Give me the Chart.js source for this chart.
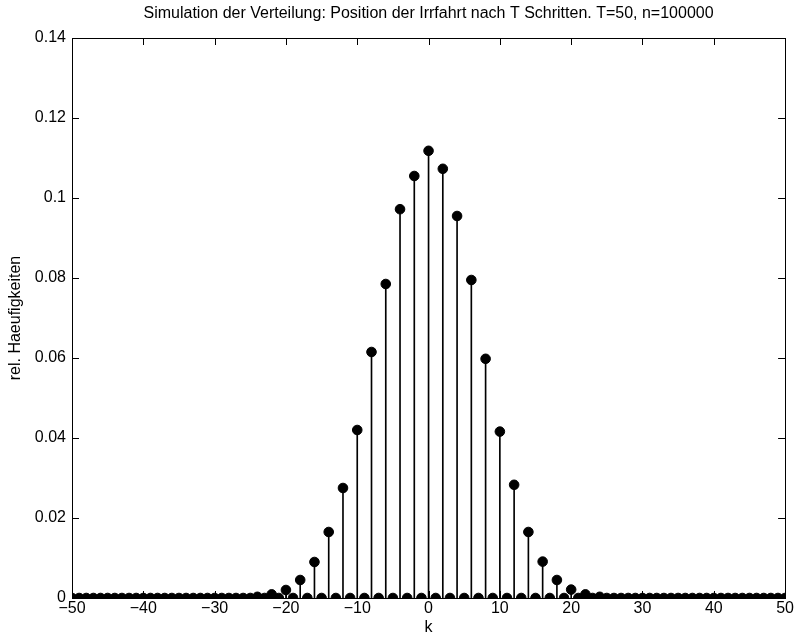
<!DOCTYPE html>
<html lang="de">
<head>
<meta charset="UTF-8">
<title>Irrfahrt Verteilung</title>
<script src="https://cdn.jsdelivr.net/npm/chart.js"></script>
<style>
  html, body { margin: 0; padding: 0; background: #fff; }
  #wrap { width: 795px; height: 638px; }
</style>
</head>
<body>
<div id="wrap"><canvas id="chart"></canvas></div>
<script>
// positions k of the random walk after T=50 steps
const kValues = [
  -50, -49, -48, -47, -46, -45, -44, -43, -42, -41,
  -40, -39, -38, -37, -36, -35, -34, -33, -32, -31,
  -30, -29, -28, -27, -26, -25, -24, -23, -22, -21,
  -20, -19, -18, -17, -16, -15, -14, -13, -12, -11,
  -10, -9, -8, -7, -6, -5, -4, -3, -2, -1,
  0, 1, 2, 3, 4, 5, 6, 7, 8, 9,
  10, 11, 12, 13, 14, 15, 16, 17, 18, 19,
  20, 21, 22, 23, 24, 25, 26, 27, 28, 29,
  30, 31, 32, 33, 34, 35, 36, 37, 38, 39,
  40, 41, 42, 43, 44, 45, 46, 47, 48, 49,
  50
];

// relative frequencies
const relFreq = [
  0, 0, 0, 0, 0, 0, 0, 0, 0, 0,
  0, 0, 0, 0, 0, 0, 0, 0, 0, 0,
  0, 0, 0, 0, 0, 0, 0.0003, 0, 0.0009, 0,
  0.0020, 0, 0.0045, 0, 0.0090, 0, 0.0165, 0, 0.0275, 0,
  0.0420, 0, 0.0615, 0, 0.0785, 0, 0.0972, 0, 0.1055, 0,
  0.1118, 0, 0.1073, 0, 0.0955, 0, 0.0795, 0, 0.0598, 0,
  0.0416, 0, 0.0283, 0, 0.0165, 0, 0.0091, 0, 0.0045, 0,
  0.0021, 0, 0.0009, 0, 0.0003, 0, 0, 0, 0, 0,
  0, 0, 0, 0, 0, 0, 0, 0, 0, 0,
  0, 0, 0, 0, 0, 0, 0, 0, 0, 0,
  0
];

const xTicks = [-50, -40, -30, -20, -10, 0, 10, 20, 30, 40, 50];
const yTicks = [0, 0.02, 0.04, 0.06, 0.08, 0.1, 0.12, 0.14];

const points = kValues.map((k, i) => ({ x: k, y: relFreq[i] }));

const FONT = 'Liberation Sans, Arial, Helvetica, sans-serif';

// MATLAB style box with inward tick marks on all four sides
const boxTicks = {
  id: 'boxTicks',
  beforeDatasetsDraw(chart) {
    const { ctx, chartArea: a, scales } = chart;
    const len = 7;
    ctx.save();
    ctx.strokeStyle = '#000';
    ctx.lineWidth = 1;
    ctx.beginPath();
    xTicks.forEach(v => {
      const x = Math.round(scales.x.getPixelForValue(v)) + 0.5;
      ctx.moveTo(x, a.bottom); ctx.lineTo(x, a.bottom - len);
      ctx.moveTo(x, a.top); ctx.lineTo(x, a.top + len);
    });
    yTicks.forEach(v => {
      const y = Math.round(scales.y.getPixelForValue(v)) + 0.5;
      ctx.moveTo(a.left, y); ctx.lineTo(a.left + len, y);
      ctx.moveTo(a.right, y); ctx.lineTo(a.right - len, y);
    });
    ctx.stroke();
    ctx.strokeRect(Math.round(a.left) + 0.5, Math.round(a.top) + 0.5,
                   Math.round(a.right - a.left), Math.round(a.bottom - a.top));
    ctx.restore();
  }
};

new Chart(document.getElementById('chart'), {
  type: 'scatter',
  data: {
    datasets: [
      {
        type: 'bar',
        data: points,
        backgroundColor: '#000',
        borderWidth: 0,
        barThickness: 1,
        order: 2
      },
      {
        type: 'scatter',
        data: points,
        pointRadius: 4.8,
        pointBackgroundColor: '#000',
        pointBorderColor: '#000',
        pointBorderWidth: 1,
        order: 1
      }
    ]
  },
  options: {
    responsive: true,
    maintainAspectRatio: false,
    animation: false,
    layout: { padding: { left: 0, right: 9, top: 0, bottom: 0 } },
    plugins: {
      legend: { display: false },
      tooltip: { enabled: false },
      title: {
        display: true,
        fullSize: false, // centre over the plot box, not the whole canvas
        text: 'Simulation der Verteilung: Position der Irrfahrt nach T Schritten. T=50, n=100000',
        color: '#000',
        font: { family: FONT, size: 16, weight: 'normal' },
        padding: { top: 4, bottom: 14.8 }
      }
    },
    scales: {
      x: {
        type: 'linear',
        min: -50, max: 50,
        offset: false,
        afterBuildTicks: s => { s.ticks = xTicks.map(v => ({ value: v })); },
        afterFit: s => { s.height = 40; },
        grid: { display: false, drawTicks: false, offset: false },
        border: { display: false },
        ticks: {
          color: '#000',
          padding: 1,
          maxRotation: 0,
          autoSkip: false,
          font: { family: FONT, size: 16 },
          callback: v => String(v).replace('-', '\u2212')
        },
        title: {
          display: true, text: 'k', color: '#000',
          font: { family: FONT, size: 16 },
          padding: { top: 0, bottom: 1 }
        }
      },
      y: {
        min: 0, max: 0.14,
        afterBuildTicks: s => { s.ticks = yTicks.map(v => ({ value: v })); },
        afterFit: s => { s.width = 72; },
        grid: { display: false, drawTicks: false },
        border: { display: false },
        ticks: {
          color: '#000',
          padding: 6,
          autoSkip: false,
          font: { family: FONT, size: 16 },
          callback: v => String(Math.round(v * 100) / 100)
        },
        title: {
          display: true, text: 'rel. Haeufigkeiten', color: '#000',
          font: { family: FONT, size: 16 },
          padding: { top: 6, bottom: 0 }
        }
      }
    }
  },
  plugins: [boxTicks]
});
</script>
</body>
</html>
